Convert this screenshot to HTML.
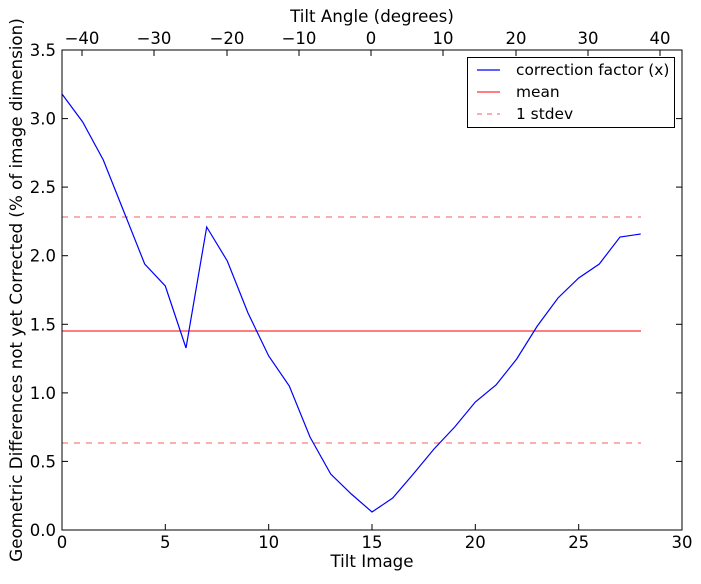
<!DOCTYPE html>
<html><head><meta charset="utf-8"><style>
body{margin:0;background:#fff}
svg text{font-family:"DejaVu Sans","Liberation Sans",sans-serif;fill:#000}
</style></head><body>
<svg width="701" height="579" xmlns="http://www.w3.org/2000/svg">
<rect width="701" height="579" fill="#fff"/>
<line x1="62" y1="217" x2="641" y2="217" stroke="#f08080" stroke-width="1.2" stroke-dasharray="6,6"/>
<line x1="62" y1="443" x2="641" y2="443" stroke="#f08080" stroke-width="1.2" stroke-dasharray="6,6"/>
<line x1="62" y1="331" x2="641" y2="331" stroke="#ff3030" stroke-width="1.2"/>
<polyline fill="none" stroke="#0000ff" stroke-width="1.2" points="62,94 82.7,122 103.3,160 124,212 144.7,264 165.3,286 186,348 206.7,227 227.3,261 248,313 268.7,356 289.3,386 310,437 330.7,474 351.3,494 372,512 392.7,498 413.3,474 434,449 454.7,427 475.3,402 496,385 516.7,359 537.3,326 558,298 578.7,278 599.3,264 620,237 640.7,234"/>
<rect x="62" y="50" width="620" height="480" fill="none" stroke="#000" stroke-width="1"/>
<g stroke="#000" stroke-width="1">
<line x1="62" y1="530" x2="62" y2="524"/><line x1="165.3" y1="530" x2="165.3" y2="524"/><line x1="268.7" y1="530" x2="268.7" y2="524"/><line x1="372" y1="530" x2="372" y2="524"/><line x1="475.3" y1="530" x2="475.3" y2="524"/><line x1="578.7" y1="530" x2="578.7" y2="524"/><line x1="682" y1="530" x2="682" y2="524"/>
<line x1="82" y1="50" x2="82" y2="56"/><line x1="154" y1="50" x2="154" y2="56"/><line x1="227" y1="50" x2="227" y2="56"/><line x1="299" y1="50" x2="299" y2="56"/><line x1="371" y1="50" x2="371" y2="56"/><line x1="443" y1="50" x2="443" y2="56"/><line x1="516" y1="50" x2="516" y2="56"/><line x1="588" y1="50" x2="588" y2="56"/><line x1="660" y1="50" x2="660" y2="56"/>
<line x1="62" y1="530" x2="68" y2="530"/><line x1="62" y1="461.4" x2="68" y2="461.4"/><line x1="62" y1="392.9" x2="68" y2="392.9"/><line x1="62" y1="324.3" x2="68" y2="324.3"/><line x1="62" y1="255.7" x2="68" y2="255.7"/><line x1="62" y1="187.1" x2="68" y2="187.1"/><line x1="62" y1="118.6" x2="68" y2="118.6"/><line x1="62" y1="50" x2="68" y2="50"/>
<line x1="682" y1="461.4" x2="676" y2="461.4"/><line x1="682" y1="392.9" x2="676" y2="392.9"/><line x1="682" y1="324.3" x2="676" y2="324.3"/><line x1="682" y1="255.7" x2="676" y2="255.7"/><line x1="682" y1="187.1" x2="676" y2="187.1"/><line x1="682" y1="118.6" x2="676" y2="118.6"/>
</g>
<g font-size="16.5" text-anchor="middle">
<text x="62" y="548">0</text><text x="165.3" y="548">5</text><text x="268.7" y="548">10</text><text x="372" y="548">15</text><text x="475.3" y="548">20</text><text x="578.7" y="548">25</text><text x="682" y="548">30</text>
<text x="82" y="44">−40</text><text x="154" y="44">−30</text><text x="227" y="44">−20</text><text x="299" y="44">−10</text><text x="371" y="44">0</text><text x="443" y="44">10</text><text x="516" y="44">20</text><text x="588" y="44">30</text><text x="660" y="44">40</text>
</g>
<g font-size="16.5" text-anchor="end">
<text x="56" y="536">0.0</text><text x="56" y="467.4">0.5</text><text x="56" y="398.9">1.0</text><text x="56" y="330.3">1.5</text><text x="56" y="261.7">2.0</text><text x="56" y="193.1">2.5</text><text x="56" y="124.6">3.0</text><text x="56" y="56">3.5</text>
</g>
<text x="372" y="567" font-size="16.7" text-anchor="middle">Tilt Image</text>
<text x="372" y="22" font-size="16.7" text-anchor="middle">Tilt Angle (degrees)</text>
<text transform="translate(22,290) rotate(-90)" font-size="16.7" text-anchor="middle">Geometric Differences not yet Corrected (% of image dimension)</text>
<rect x="467.5" y="57.5" width="207" height="70" fill="#fff" stroke="#000"/>
<line x1="477" y1="70" x2="500" y2="70" stroke="#0000ff" stroke-width="1.2"/>
<line x1="477" y1="92" x2="500" y2="92" stroke="#ff3030" stroke-width="1.2"/>
<line x1="477" y1="114" x2="500" y2="114" stroke="#f08080" stroke-width="1.2" stroke-dasharray="5,5"/>
<g font-size="15.4"><text x="516" y="75">correction factor (x)</text><text x="516" y="97">mean</text><text x="516" y="119">1 stdev</text></g>
</svg>
</body></html>
